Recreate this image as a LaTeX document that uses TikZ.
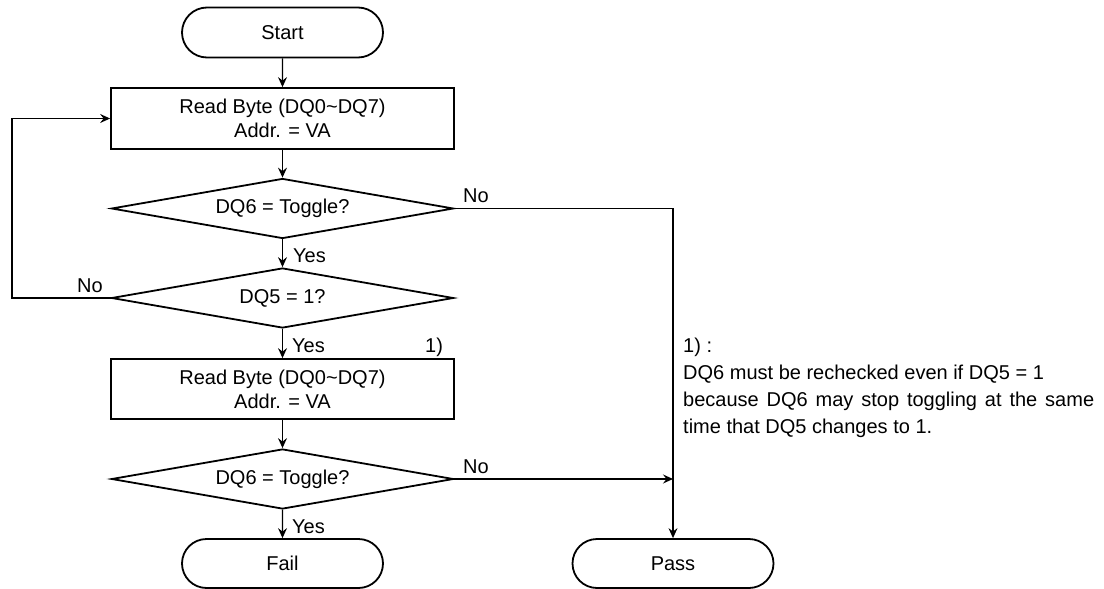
\documentclass[tikz,border=0pt]{standalone}
\usepackage{fontspec}
\setmainfont{Liberation Sans}
\usetikzlibrary{shapes.geometric,shapes.misc,arrows.meta}
\begin{document}
\begin{tikzpicture}[x=1pt,y=-1pt,
  every node/.style={font=\fontsize{20}{24}\selectfont},
  shapeline/.style={draw=black,line width=1.8pt},
  term/.style={shapeline,rounded rectangle,minimum width=201pt,minimum height=50pt,inner sep=0pt},
  procbox/.style={shapeline,rectangle,minimum width=343pt,minimum height=61pt,inner sep=0pt,align=center},
  decide/.style={shapeline,diamond,aspect=5.7,minimum width=342pt,minimum height=60pt,inner sep=0pt},
  conn/.style={draw=black,line width=1.1pt,-{Stealth[length=10pt,width=9pt,inset=3.5pt]}},
  plainconn/.style={draw=black,line width=1.1pt},
  lbl/.style={anchor=base west,inner sep=0pt}
]
\useasboundingbox (0,0) rectangle (1104,589);

\node[term] (start) at (282.5,32.5) {Start};
\node[procbox] (read1) at (282.5,118.5) {Read Byte (DQ0\textasciitilde DQ7)\\Addr. = VA};
\node[decide] (dq6a) at (282.5,208.5) {DQ6 = Toggle?};
\node[decide] (dq5) at (282.5,298) {DQ5 = 1?};
\node[procbox,minimum height=60pt] (read2) at (282.5,389) {Read Byte (DQ0\textasciitilde DQ7)\\Addr. = VA};
\node[decide] (dq6b) at (282.5,479) {DQ6 = Toggle?};
\node[term,minimum height=49pt] (fail) at (282.5,563.5) {Fail};
\node[term,minimum height=49pt] (pass) at (673,563.5) {Pass};

\coordinate (loopL) at (12,298);
\coordinate (join) at (673,479);

\draw[conn] (start) -- (read1);
\draw[conn] (read1) -- (dq6a);
\draw[conn] (dq6a) -- (dq5);
\draw[conn] (dq5) -- (read2);
\draw[conn] (read2) -- (dq6b);
\draw[conn] (dq6b) -- (fail);
\draw[conn] (dq6a.east) -| (pass.north);
\draw[conn] (dq6b.east) -- (join);
\draw[conn] (dq5.west) -- (loopL) |- (read1.west);

\node[lbl] (no1) at (463,202) {No};
\node[lbl] (yes1) at (293,262) {Yes};
\node[lbl] (no2) at (77,292) {No};
\node[lbl] (yes2) at (292,352) {Yes};
\node[lbl] (ref1) at (425,352) {1)};
\node[lbl] (no3) at (463,473) {No};
\node[lbl] (yes3) at (292,533) {Yes};

\node[anchor=base west,inner sep=0pt,text width=411pt,align=justify,
  font=\fontsize{20}{27}\selectfont] (note) at (683,352)
  {\hyphenpenalty=10000 1) :\\DQ6 must be rechecked even if DQ5 = 1\\because DQ6 may stop toggling at the same time that DQ5 changes to 1.};
\end{tikzpicture}
\end{document}
